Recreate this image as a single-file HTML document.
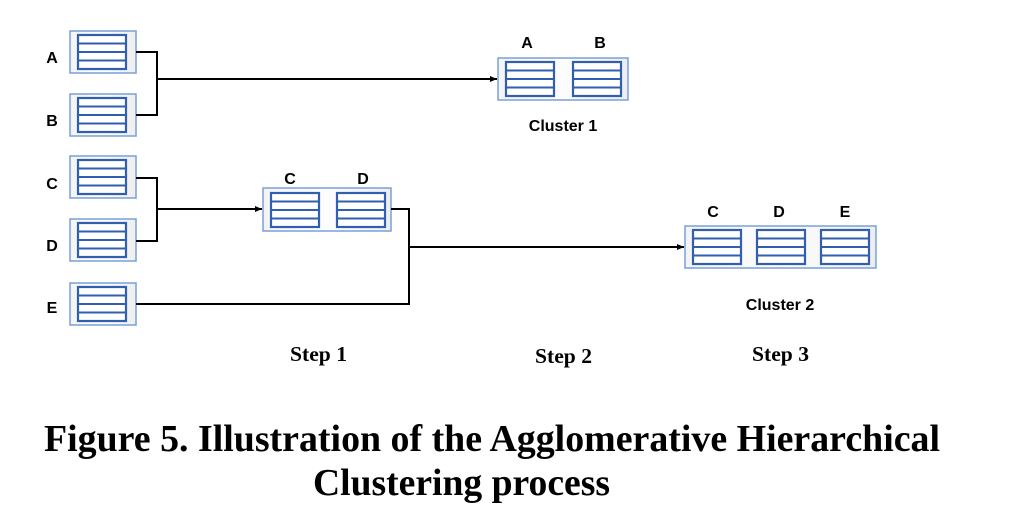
<!DOCTYPE html>
<html><head><meta charset="utf-8"><style>
html,body{margin:0;padding:0;background:#fff;}
svg{display:block;}
.l{font-family:"Liberation Sans",sans-serif;font-weight:bold;font-size:16px;fill:#000;}
.s{font-family:"Liberation Serif",serif;font-weight:bold;fill:#000;}
</style></head><body>
<svg width="1024" height="514" viewBox="0 0 1024 514" xmlns="http://www.w3.org/2000/svg">
<defs>
<linearGradient id="g" x1="0" y1="0" x2="1" y2="0">
<stop offset="0" stop-color="#f4f4f4"/><stop offset="0.5" stop-color="#fdfdfd"/><stop offset="1" stop-color="#eeeeee"/>
</linearGradient>
<g id="t">
<rect x="0" y="0" width="48" height="34" fill="#fff" stroke="#2f5fae" stroke-width="2.2"/>
<line x1="0" y1="8.5" x2="48" y2="8.5" stroke="#2f5fae" stroke-width="2"/>
<line x1="0" y1="17" x2="48" y2="17" stroke="#2f5fae" stroke-width="2"/>
<line x1="0" y1="25.5" x2="48" y2="25.5" stroke="#2f5fae" stroke-width="2"/>
</g>
<marker id="a" markerWidth="8" markerHeight="8" refX="7" refY="4" orient="auto" markerUnits="userSpaceOnUse">
<path d="M0,1 L7,4 L0,7 z" fill="#000"/>
</marker>
</defs>

<g stroke="#7aa0d8" stroke-width="1.5" fill="url(#g)">
<rect x="70" y="31" width="66" height="42"/>
<rect x="70" y="94" width="66" height="42"/>
<rect x="70" y="156" width="66" height="42"/>
<rect x="70" y="219" width="66" height="42"/>
<rect x="70" y="283" width="66" height="42"/>
<rect x="498" y="58" width="130" height="42"/>
<rect x="263" y="188" width="128" height="43"/>
<rect x="685" y="226" width="191" height="42"/>
</g>
<use href="#t" x="78" y="35"/>
<use href="#t" x="78" y="98"/>
<use href="#t" x="78" y="160"/>
<use href="#t" x="78" y="223"/>
<use href="#t" x="78" y="287"/>
<use href="#t" x="506" y="62"/>
<use href="#t" x="573" y="62"/>
<use href="#t" x="271" y="193"/>
<use href="#t" x="337" y="193"/>
<use href="#t" x="693" y="230"/>
<use href="#t" x="757" y="230"/>
<use href="#t" x="821" y="230"/>

<g stroke="#000" stroke-width="2" fill="none">
<polyline points="136,52 157,52 157,115 136,115"/>
<line x1="157" y1="79" x2="497" y2="79" marker-end="url(#a)"/>
<polyline points="136,178 157,178 157,241 136,241"/>
<line x1="157" y1="209" x2="262" y2="209" marker-end="url(#a)"/>
<polyline points="391,209 409,209 409,304 136,304"/>
<line x1="409" y1="247" x2="684" y2="247" marker-end="url(#a)"/>
</g>

<text class="l" x="52" y="63" text-anchor="middle">A</text>
<text class="l" x="52" y="126" text-anchor="middle">B</text>
<text class="l" x="52" y="189" text-anchor="middle">C</text>
<text class="l" x="52" y="251" text-anchor="middle">D</text>
<text class="l" x="52" y="313" text-anchor="middle">E</text>
<text class="l" x="527" y="48" text-anchor="middle">A</text>
<text class="l" x="600" y="48" text-anchor="middle">B</text>
<text class="l" x="563" y="131" text-anchor="middle">Cluster 1</text>
<text class="l" x="290" y="184" text-anchor="middle">C</text>
<text class="l" x="363" y="184" text-anchor="middle">D</text>
<text class="l" x="713" y="217" text-anchor="middle">C</text>
<text class="l" x="779" y="217" text-anchor="middle">D</text>
<text class="l" x="845" y="217" text-anchor="middle">E</text>
<text class="l" x="780" y="310" text-anchor="middle">Cluster 2</text>

<text class="s" x="290" y="361" font-size="21" textLength="57" lengthAdjust="spacingAndGlyphs">Step 1</text>
<text class="s" x="535" y="363" font-size="21" textLength="57" lengthAdjust="spacingAndGlyphs">Step 2</text>
<text class="s" x="752" y="361" font-size="21" textLength="57" lengthAdjust="spacingAndGlyphs">Step 3</text>

<text class="s" x="44" y="451" font-size="38" textLength="896" lengthAdjust="spacingAndGlyphs">Figure 5. Illustration of the Agglomerative Hierarchical</text>
<text class="s" x="313" y="495" font-size="38" textLength="297" lengthAdjust="spacingAndGlyphs">Clustering process</text>
</svg>
</body></html>
